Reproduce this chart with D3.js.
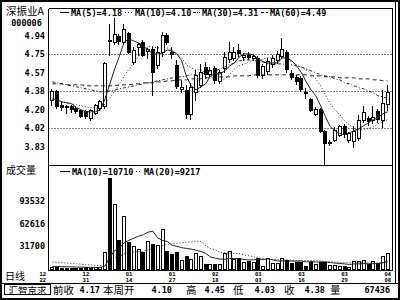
<!DOCTYPE html>
<html><head><meta charset="utf-8">
<script src="https://cdn.jsdelivr.net/npm/d3@7/dist/d3.min.js"></script>
<style>
html,body{margin:0;padding:0;background:#fff;overflow:hidden}
svg{display:block}
.mono{font-family:"DejaVu Sans Mono",monospace;font-weight:bold;font-size:8.5px;fill:#000}
.tiny{font-family:"DejaVu Sans Mono",monospace;font-weight:bold;font-size:5.5px;fill:#000}
.cjk{font-family:"Noto Sans CJK SC",sans-serif;fill:#000}
</style></head><body>
<svg id="chart" width="400" height="300"></svg>
<script>
// ---------- data ----------
const opens  = [4.30,4.39,4.25,4.23,4.24,4.22,4.20,4.19,4.12,4.17,
                4.22,4.24,4.90,4.88,4.94,4.88,4.97,4.68,4.83,4.88,
                4.79,4.81,4.65,4.78,4.95,4.78,4.65,4.41,4.40,4.16,
                4.38,4.45,4.63,4.56,4.62,4.49,4.62,4.71,4.72,4.80,
                4.73,4.75,4.72,4.72,4.55,4.59,4.66,4.70,4.74,4.78,
                4.57,4.53,4.52,4.38,4.31,4.16,4.21,3.99,3.87,3.90,
                3.95,4.04,3.90,3.89,3.92,4.10,4.12,4.10,4.19,4.10,4.26];
const highs  = [4.41,4.40,4.28,4.25,4.25,4.24,4.21,4.20,4.21,4.26,
                4.30,4.68,5.06,5.12,4.96,5.06,4.98,4.83,4.87,4.90,
                4.82,4.83,4.84,4.98,4.97,4.83,4.70,4.50,4.45,4.47,
                4.60,4.66,4.68,4.63,4.64,4.60,4.78,4.88,4.83,4.86,
                4.77,4.78,4.76,4.74,4.66,4.72,4.75,4.79,4.92,4.80,
                4.60,4.55,4.54,4.42,4.32,4.23,4.22,4.00,3.90,4.03,
                4.05,4.06,3.98,4.04,4.15,4.24,4.14,4.24,4.21,4.40,4.45];
const lows   = [4.25,4.22,4.20,4.17,4.18,4.17,4.13,4.12,4.10,4.16,
                4.20,4.22,4.75,4.86,4.86,4.86,4.77,4.66,4.75,4.74,
                4.72,4.35,4.62,4.74,4.86,4.72,4.42,4.38,4.12,4.11,
                4.30,4.43,4.52,4.53,4.47,4.47,4.58,4.68,4.70,4.74,
                4.70,4.71,4.70,4.53,4.52,4.56,4.63,4.67,4.72,4.58,
                4.51,4.46,4.39,4.32,4.19,4.15,3.98,3.66,3.85,3.89,
                3.94,3.93,3.88,3.83,3.90,4.08,4.05,4.07,4.08,4.03,4.20];
const closes = [4.39,4.24,4.23,4.24,4.21,4.19,4.14,4.14,4.20,4.25,
                4.29,4.67,4.89,4.96,4.89,5.01,4.78,4.80,4.86,4.75,
                4.81,4.58,4.78,4.95,4.88,4.76,4.44,4.43,4.16,4.43,
                4.55,4.58,4.56,4.60,4.50,4.58,4.73,4.78,4.78,4.77,
                4.75,4.73,4.74,4.55,4.64,4.69,4.72,4.76,4.81,4.61,
                4.53,4.49,4.41,4.37,4.20,4.21,3.99,3.87,3.88,4.00,
                4.04,3.96,3.97,3.99,4.10,4.18,4.09,4.13,4.11,4.27,4.38];
const volumes = [2600,2400,2000,1800,2000,1700,1900,2100,2000,2300,
                 2800,23500,126000,89300,39600,72700,37300,31700,28100,23500,
                 38600,35000,32700,55700,24400,20300,23500,13000,17500,14300,
                 22100,17500,7400,7000,7400,6700,22100,24400,14350,15700,
                 9500,10400,9000,15700,3700,15600,8600,8600,15700,13000,
                 8600,10200,10200,3500,10200,7200,10200,10200,5800,5800,
                 3500,3800,2400,10700,10700,12000,7100,11400,8400,18500,22200];
const ma5  = [4.31,4.30,4.28,4.27,4.26,4.22,4.20,4.18,4.18,4.18,
              4.20,4.31,4.46,4.61,4.74,4.88,4.91,4.89,4.87,4.84,
              4.80,4.76,4.76,4.77,4.80,4.79,4.76,4.69,4.53,4.44,
              4.40,4.43,4.46,4.54,4.56,4.56,4.59,4.64,4.67,4.73,
              4.76,4.76,4.75,4.71,4.68,4.67,4.67,4.67,4.72,4.72,
              4.69,4.64,4.57,4.48,4.40,4.34,4.24,4.13,4.03,3.99,
              3.96,3.95,3.97,3.99,4.01,4.04,4.07,4.10,4.12,4.16,4.18];
const ma10 = [4.30,4.29,4.28,4.27,4.26,4.25,4.24,4.23,4.22,4.22,
              4.21,4.26,4.32,4.39,4.46,4.54,4.61,4.67,4.74,4.79,
              4.84,4.83,4.82,4.82,4.82,4.80,4.76,4.72,4.65,4.62,
              4.60,4.60,4.57,4.54,4.50,4.48,4.51,4.55,4.61,4.64,
              4.66,4.68,4.70,4.69,4.71,4.72,4.72,4.71,4.72,4.70,
              4.68,4.65,4.62,4.60,4.56,4.51,4.44,4.35,4.26,4.20,
              4.15,4.09,4.05,4.01,4.00,4.00,4.01,4.03,4.06,4.08,4.10];
const ma30 = [4.48,4.47,4.46,4.45,4.44,4.43,4.42,4.41,4.40,4.39,
              4.38,4.38,4.39,4.40,4.41,4.42,4.43,4.44,4.45,4.46,
              4.47,4.48,4.49,4.50,4.51,4.52,4.53,4.53,4.54,4.55,
              4.55,4.56,4.57,4.59,4.59,4.61,4.63,4.65,4.67,4.69,
              4.70,4.70,4.70,4.68,4.68,4.66,4.66,4.66,4.66,4.65,
              4.65,4.64,4.63,4.61,4.59,4.57,4.55,4.54,4.53,4.51,
              4.50,4.47,4.46,4.44,4.42,4.41,4.39,4.37,4.34,4.33,4.31];
const ma60 = [4.46,4.46,4.46,4.45,4.45,4.45,4.45,4.44,4.44,4.44,
              4.44,4.44,4.44,4.44,4.45,4.45,4.45,4.46,4.46,4.47,
              4.47,4.47,4.48,4.48,4.49,4.49,4.50,4.50,4.50,4.51,
              4.51,4.51,4.52,4.52,4.52,4.53,4.53,4.53,4.54,4.54,
              4.54,4.54,4.55,4.55,4.55,4.55,4.55,4.55,4.55,4.55,
              4.55,4.55,4.55,4.55,4.54,4.54,4.54,4.53,4.53,4.53,
              4.52,4.52,4.52,4.52,4.51,4.51,4.51,4.50,4.50,4.49,4.49];
const vma10 = [3700,3500,3300,3100,2900,2700,2500,2300,2200,2100,
               2100,4210,16610,25360,29120,36220,39760,42720,45330,47450,
               51030,52180,42850,39490,37970,32730,31350,29480,28420,27500,
               25850,24100,21570,16700,15000,13640,13500,14640,14330,14470,
               13200,12500,12655,13525,13155,14045,12695,11115,11250,10980,
               10890,10870,10990,9770,10420,9580,9740,9900,8910,8190,
               7680,7040,6260,6980,7030,7510,7200,7320,7580,8850,10710];
const vma20 = [9700,9300,8800,8200,7700,7200,6600,6000,5500,5000,
               4600,5300,11400,15700,17500,21000,22600,23600,24200,24765,
               26565,28195,29730,32425,33545,34475,35555,36100,36875,37475,
               38440,38140,32210,28095,26485,23185,22425,22060,21373,20983,
               19528,18298,17113,15113,14078,13843,13098,12878,12788,12723,
               12048,11683,11823,11648,11788,11813,11218,10508,10080,9585,
               9285,8955,8625,8375,8725,8545,8470,8610,8245,8520,9217];

const priceTicks  = [4.94,4.755,4.57,4.385,4.20,4.015,3.83];
const priceLabels = ["4.94","4.75","4.57","4.38","4.20","4.02","3.83"];
const priceGrid   = [4.755,4.385,4.015];
const volTicks    = [93532,62616,31700];
const dateIdx     = [-2,7,16,25,34,43,52,61,70];
const dateTop     = ["12","12","01","01","02","03","03","03","04"];
const dateBot     = ["22","31","14","27","18","03","16","29","08"];
const maLabels    = ["MA(5)=4.18","MA(10)=4.10","MA(30)=4.31","MA(60)=4.49"];
const vmaLabels   = ["MA(10)=10710","MA(20)=9217"];
const infoNames   = ["前收","本周开","高","低","收","量"];
const infoValues  = ["4.17","4.10","4.45","4.03","4.38","67436"];

// ---------- layout ----------
const L=48.5, R=392.5, T=8.5, MID=165.5, B=270.5;
const svg = d3.select("#chart");
const x  = d3.scaleLinear().domain([0, closes.length-1]).range([52.4, 387.7]);
const yP = d3.scaleLinear().domain([3.646, 5.2156]).range([165, 8.5]);
const yV = d3.scaleLinear().domain([0, 143000]).range([269, 165.5]);

svg.append("rect").attr("width",400).attr("height",300).attr("fill","#fff");
const defs = svg.append("defs");
defs.append("clipPath").attr("id","cp").append("rect")
  .attr("x",L).attr("y",T).attr("width",R-L).attr("height",MID-T);
defs.append("clipPath").attr("id","cv").append("rect")
  .attr("x",L).attr("y",MID).attr("width",R-L).attr("height",B-MID);

// grid lines
svg.append("g").selectAll("line").data(priceGrid).join("line")
  .attr("x1",L).attr("x2",R)
  .attr("y1",d=>Math.round(yP(d))+0.5).attr("y2",d=>Math.round(yP(d))+0.5)
  .attr("stroke","#000").attr("stroke-width",1).attr("stroke-dasharray","1,2");

// candles
const idx = d3.range(closes.length);
const gC = svg.append("g").attr("clip-path","url(#cp)").attr("shape-rendering","crispEdges");
idx.forEach(i=>{
  const px = Math.round(x(i));
  const up = closes[i] >= opens[i];
  const yt = Math.round(yP(Math.max(opens[i],closes[i])));
  const yb = Math.round(yP(Math.min(opens[i],closes[i])));
  gC.append("line").attr("x1",px-0.5).attr("x2",px-0.5)
    .attr("y1",Math.round(yP(highs[i]))).attr("y2",Math.round(yP(lows[i]))+1)
    .attr("stroke","#000").attr("stroke-width",1);
  if (yb-yt < 1) {
    gC.append("line").attr("x1",px-2).attr("x2",px+2).attr("y1",yt+0.5).attr("y2",yt+0.5)
      .attr("stroke","#000");
  } else if (up) {
    gC.append("rect").attr("x",px-1.5).attr("y",yt+0.5).attr("width",3).attr("height",yb-yt)
      .attr("fill","#fff").attr("stroke","#000").attr("stroke-width",1);
  } else {
    gC.append("rect").attr("x",px-2).attr("y",yt).attr("width",4).attr("height",yb-yt+1)
      .attr("fill","#000");
  }
});

// MA lines (price)
const lineP = d3.line().x((d,i)=>x(i)).y(d=>yP(d));
const gL = svg.append("g").attr("clip-path","url(#cp)").attr("fill","none").attr("stroke","#222").attr("stroke-width",1);
const maSeries = [[ma5,null],[ma10,"1,2"],[ma30,"3,2,1,2"],[ma60,"4,3"]];
maSeries.forEach(([s,dash])=>{
  const p = gL.append("path").attr("d",lineP(s));
  if (dash) p.attr("stroke-dasharray",dash);
});

// volume bars
const gV = svg.append("g").attr("clip-path","url(#cv)").attr("shape-rendering","crispEdges");
const vBase = Math.round(yV(0));
idx.forEach(i=>{
  const px = Math.round(x(i));
  const up = closes[i] >= opens[i];
  const yt = Math.round(yV(volumes[i]));
  if (up) {
    gV.append("rect").attr("x",px-1.5).attr("y",yt+0.5).attr("width",3).attr("height",Math.max(0.5,vBase-yt))
      .attr("fill","#fff").attr("stroke","#000").attr("stroke-width",1);
  } else {
    gV.append("rect").attr("x",px-2).attr("y",yt).attr("width",4).attr("height",Math.max(1,vBase-yt+1))
      .attr("fill","#000");
  }
});
const lineV = d3.line().x((d,i)=>x(i)).y(d=>yV(d));
const gVL = svg.append("g").attr("clip-path","url(#cv)").attr("fill","none").attr("stroke","#222").attr("stroke-width",1);
gVL.append("path").attr("d",lineV(vma10));
gVL.append("path").attr("d",lineV(vma20)).attr("stroke-dasharray","1,2");

// frames
const fr = svg.append("g").attr("stroke","#000").attr("stroke-width",1).attr("shape-rendering","crispEdges");
fr.append("line").attr("x1",L).attr("x2",R).attr("y1",T).attr("y2",T);
fr.append("line").attr("x1",L).attr("x2",R).attr("y1",MID).attr("y2",MID);
fr.append("line").attr("x1",L).attr("x2",R).attr("y1",B).attr("y2",B);
fr.append("line").attr("x1",L).attr("x2",L).attr("y1",T).attr("y2",B);
fr.append("line").attr("x1",R).attr("x2",R).attr("y1",T).attr("y2",B);
fr.append("line").attr("x1",395.5).attr("x2",395.5).attr("y1",2).attr("y2",283.5);
fr.append("line").attr("x1",1).attr("x2",399).attr("y1",283.5).attr("y2",283.5);
svg.append("rect").attr("x",1).attr("y",1).attr("width",398).attr("height",298)
  .attr("fill","none").attr("stroke","#000").attr("stroke-width",2);

// axis labels
svg.append("g").selectAll("text").data(priceTicks).join("text").attr("class","mono")
  .attr("x",45).attr("y",d=>yP(d)+3).attr("text-anchor","end").text((d,i)=>priceLabels[i]);
svg.append("g").selectAll("text").data(volTicks).join("text").attr("class","mono")
  .attr("x",45).attr("y",d=>yV(d)+3).attr("text-anchor","end").text(d=>String(d));
svg.append("g").selectAll("text").data(dateIdx).join("text").attr("class","tiny")
  .attr("x",d=>x(d)).attr("y",275.8).attr("text-anchor","middle").text((d,i)=>dateTop[i]);
svg.append("g").selectAll("text").data(dateIdx).join("text").attr("class","tiny")
  .attr("x",d=>x(d)).attr("y",282.3).attr("text-anchor","middle").text((d,i)=>dateBot[i]);

// left titles
svg.append("text").attr("class","cjk").attr("x",6).attr("y",14.5).attr("font-size","10.5px").text("深振业A");
svg.append("text").attr("class","mono").attr("x",26.5).attr("y",26).attr("text-anchor","middle").text("000006");
svg.append("text").attr("class","cjk").attr("x",6).attr("y",174).attr("font-size","10px").text("成交量");
svg.append("text").attr("class","cjk").attr("x",5).attr("y",279.5).attr("font-size","10px").text("日线");

// legends
const maLayout = [[60,69,71],[125,133,135],[193,200,202],[261,268,270]];
const maDash = [null,"1,2","3,1,1,1","3,2"];
maLabels.forEach((t,i)=>{
  const [a,b,tx] = maLayout[i];
  const ln = svg.append("line").attr("x1",a).attr("x2",b).attr("y1",12.5).attr("y2",12.5)
    .attr("stroke","#000").attr("stroke-width",1);
  if (maDash[i]) ln.attr("stroke-dasharray",maDash[i]);
  svg.append("text").attr("class","mono").attr("x",tx).attr("y",16).text(t);
});
const vLayout = [[60,70,72],[136,142,144]];
const vDash = [null,"1,2"];
vmaLabels.forEach((t,i)=>{
  const [a,b,tx] = vLayout[i];
  const ln = svg.append("line").attr("x1",a).attr("x2",b).attr("y1",171.5).attr("y2",171.5)
    .attr("stroke","#000").attr("stroke-width",1);
  if (vDash[i]) ln.attr("stroke-dasharray",vDash[i]);
  svg.append("text").attr("class","mono").attr("x",tx).attr("y",175).text(t);
});

// info bar
svg.append("rect").attr("x",4.5).attr("y",284.5).attr("width",46).attr("height",10)
  .attr("fill","none").attr("stroke","#000").attr("stroke-width",1).attr("shape-rendering","crispEdges");
svg.append("text").attr("class","cjk").attr("x",27.5).attr("y",294).attr("font-size","9.5px")
  .attr("text-anchor","middle").text("汇智京求");
const nameX = [53,103,186,233,284,330];
const valX  = [100,172,225,275,325,390];
infoNames.forEach((t,i)=>{
  svg.append("text").attr("class","cjk").attr("x",nameX[i]).attr("y",294).attr("font-size","10.5px").text(t);
  svg.append("text").attr("class","mono").attr("x",valX[i]).attr("y",292.5).attr("text-anchor","end").text(infoValues[i]);
});
</script>
</body></html>
